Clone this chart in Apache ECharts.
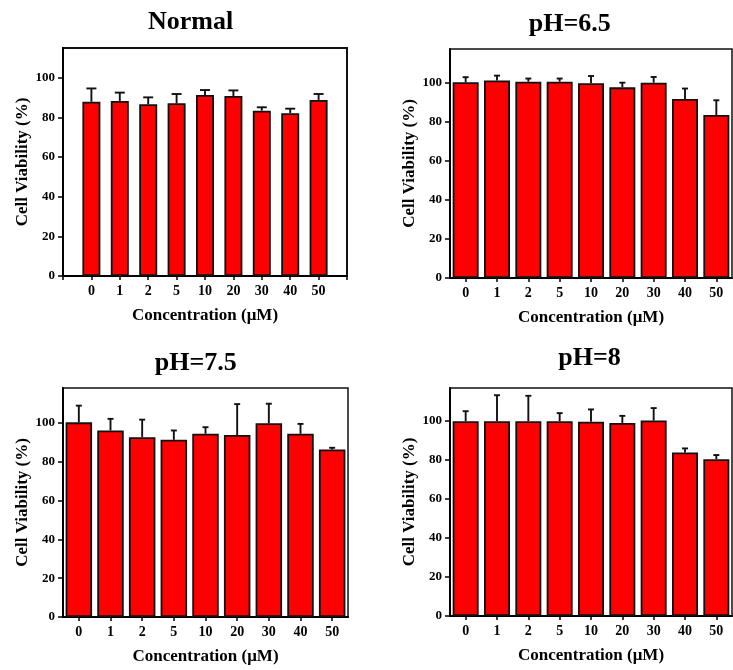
<!DOCTYPE html>
<html>
<head>
<meta charset="utf-8">
<script src="https://cdn.jsdelivr.net/npm/echarts@6/dist/echarts.min.js"></script>
<style>html,body{margin:0;padding:0;background:#fff}#c{width:733px;height:670px}</style>
</head>
<body>
<div id="c"></div>
<script>
// ---- data ----
const categories = ['0', '1', '2', '5', '10', '20', '30', '40', '50'];
const yTicks = [0, 20, 40, 60, 80, 100];

const panelTitles = ['Normal', 'pH=6.5', 'pH=7.5', 'pH=8'];

const normalMean = [87.9, 88.3, 86.6, 87.1, 91.3, 90.8, 83.4, 82.1, 88.8];
const normalSD   = [6.7, 4.2, 3.5, 4.7, 2.5, 2.8, 1.7, 2.3, 3.0];

const ph65Mean = [100.0, 100.9, 100.3, 100.3, 99.5, 97.4, 99.8, 91.5, 83.3];
const ph65SD   = [2.6, 2.5, 1.6, 1.6, 3.7, 2.4, 2.9, 5.3, 7.5];

const ph75Mean = [100.3, 96.1, 92.6, 91.3, 94.4, 93.8, 99.8, 94.4, 86.3];
const ph75SD   = [8.6, 6.0, 9.1, 4.8, 3.4, 15.9, 10.1, 5.1, 0.9];

const ph8Mean = [100.0, 100.0, 100.0, 100.0, 99.7, 99.1, 100.3, 83.9, 80.5];
const ph8SD   = [5.1, 13.3, 13.0, 4.1, 6.3, 3.6, 6.4, 2.1, 2.1];

const xName = 'Concentration (\u03bcM)';
const yName = 'Cell Viability (%)';

// ---- layout / style ----
const FONT = "'Liberation Serif', 'Times New Roman', serif";
const panels = [
  {mean: normalMean, sd: normalSD, grid: {left: 63, top: 48, width: 284, height: 228}, yMax: 115, pad: true, barW: 18, cap: 10, tx: 190.5, ty: 22, border: 2},
  {mean: ph65Mean, sd: ph65SD, grid: {left: 450, top: 49, width: 282, height: 229}, yMax: 117, pad: false, barW: 26, cap: 6, tx: 569.7, ty: 24.5, border: 1.5},
  {mean: ph75Mean, sd: ph75SD, grid: {left: 63, top: 388, width: 285, height: 229}, yMax: 118, pad: false, barW: 26.5, cap: 6, tx: 195.8, ty: 363.3, border: 1.5},
  {mean: ph8Mean, sd: ph8SD, grid: {left: 450, top: 388, width: 282, height: 228}, yMax: 117, pad: false, barW: 26, cap: 6, tx: 589.5, ty: 358.5, border: 1.5}
];

const grids = [], xAxes = [], yAxes = [], series = [], graphics = [];

panels.forEach((p, i) => {
  grids.push(Object.assign({show: true, borderColor: '#111', borderWidth: p.border, backgroundColor: 'transparent'}, p.grid));
  const xData = p.pad ? [''].concat(categories, ['']) : categories.slice();
  const off = p.pad ? 1 : 0;
  xAxes.push({
    type: 'category', gridIndex: i, data: xData, boundaryGap: !p.pad,
    axisLine: {lineStyle: {color: '#000', width: 2}},
    axisTick: {show: true, alignWithLabel: true, length: 4, lineStyle: {color: '#000', width: 1.5}},
    axisLabel: {color: '#000', fontFamily: FONT, fontWeight: 'bold', fontSize: 14, margin: 8, interval: 0},
    name: xName, nameLocation: 'middle', nameGap: 31,
    nameTextStyle: {color: '#000', fontFamily: FONT, fontWeight: 'bold', fontSize: 17}
  });
  yAxes.push({
    type: 'value', gridIndex: i, min: 0, max: p.yMax,
    splitLine: {show: false},
    axisLine: {show: true, lineStyle: {color: '#000', width: 2}},
    axisTick: {show: true, length: 5, customValues: yTicks, lineStyle: {color: '#000', width: 1.5}},
    axisLabel: {color: '#000', fontFamily: FONT, fontWeight: 'bold', fontSize: 13, margin: 8, customValues: yTicks},
    name: yName, nameLocation: 'middle', nameGap: 32, nameRotate: 90,
    nameTextStyle: {color: '#000', fontFamily: FONT, fontWeight: 'bold', fontSize: 17}
  });
  const barData = p.mean.slice();
  const fullBar = p.pad ? [null].concat(barData, [null]) : barData;
  series.push({
    type: 'bar', xAxisIndex: i, yAxisIndex: i, data: fullBar, barWidth: p.barW,
    itemStyle: {color: '#fe0000', borderColor: '#111', borderWidth: 1.8},
    z: 2, silent: true
  });
  const errData = p.mean.map((m, k) => [k + off, m, p.sd[k]]);
  const capHalf = p.cap / 2;
  series.push({
    type: 'custom', xAxisIndex: i, yAxisIndex: i, data: errData, z: 3, silent: true,
    encode: {x: 0, y: 1},
    renderItem: function (params, api) {
      const x = api.value(0), m = api.value(1), s = api.value(2);
      const p0 = api.coord([x, m]);
      const p1 = api.coord([x, m + s]);
      const st = {stroke: '#111', lineWidth: 1.9};
      return {type: 'group', children: [
        {type: 'line', shape: {x1: p0[0], y1: p0[1], x2: p1[0], y2: p1[1]}, style: st},
        {type: 'line', shape: {x1: p1[0] - capHalf, y1: p1[1], x2: p1[0] + capHalf, y2: p1[1]}, style: st}
      ]};
    }
  });
  graphics.push({
    type: 'text', x: p.tx, y: p.ty,
    style: {text: panelTitles[i], font: 'bold 26px ' + FONT, fill: '#000',
      align: 'center', verticalAlign: 'middle', textAlign: 'center', textVerticalAlign: 'middle'}
  });
});

const chart = echarts.init(document.getElementById('c'), null, {renderer: 'canvas'});
chart.setOption({
  animation: false,
  backgroundColor: '#fff',
  grid: grids, xAxis: xAxes, yAxis: yAxes, series: series, graphic: graphics
});
</script>
</body>
</html>
